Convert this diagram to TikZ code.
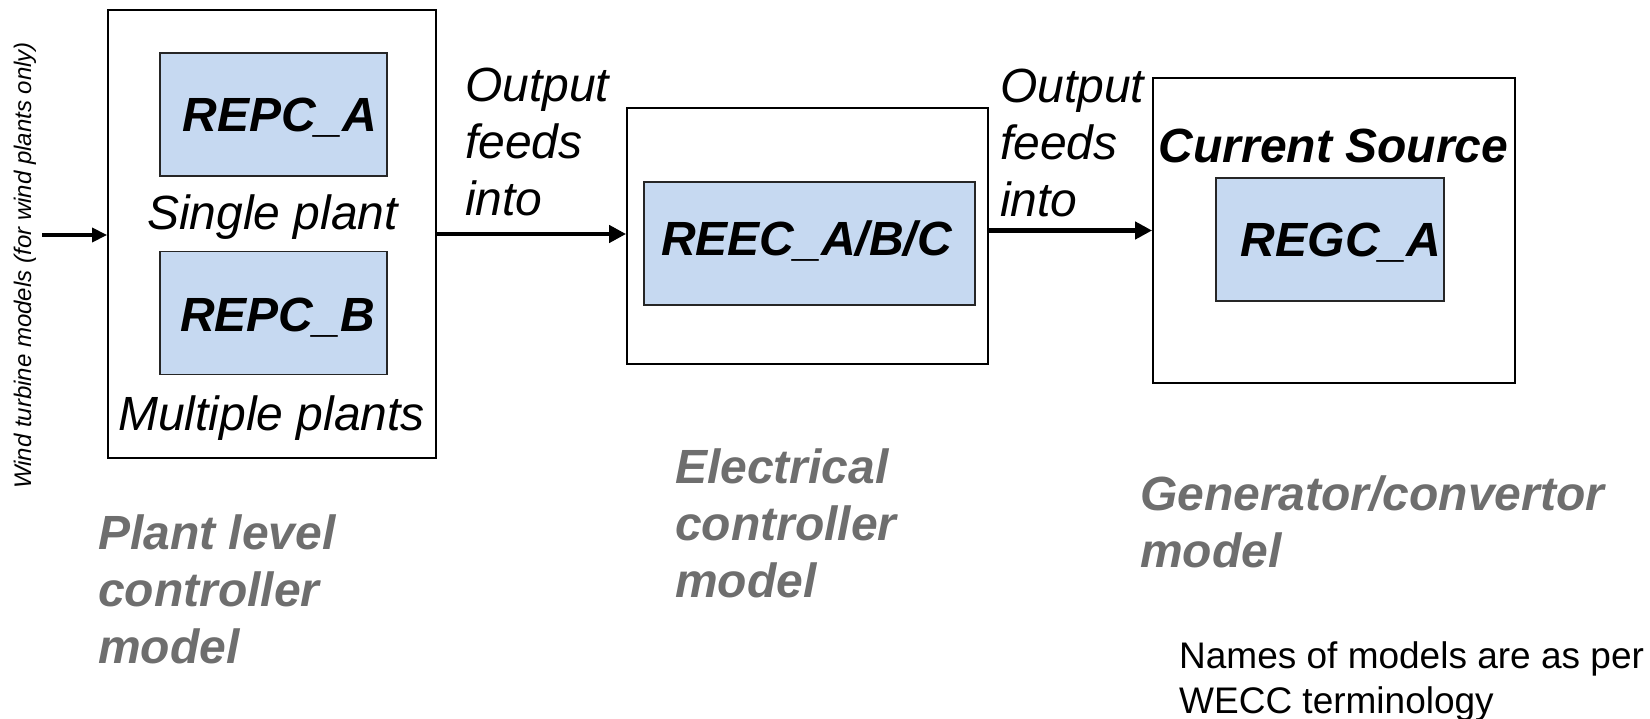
\documentclass[tikz,border=0pt]{standalone}
\usepackage{fontspec}
\setmainfont{Liberation Sans}
\usetikzlibrary{arrows.meta}
\definecolor{boxblue}{RGB}{198,217,241}
\definecolor{labgray}{RGB}{110,110,110}
\tikzset{
  outerbox/.style={draw=black, line width=1.8pt, fill=white, inner sep=0pt},
  innerbox/.style={draw=black!85, line width=1.6pt, fill=boxblue, inner sep=0pt},
  bigbi/.style={font=\fontsize{48}{57}\selectfont\bfseries\itshape, inner sep=0pt, anchor=base},
  bigi/.style={font=\fontsize{48}{57}\selectfont\itshape, inner sep=0pt},
  graylab/.style={font=\fontsize{48}{57}\selectfont\bfseries\itshape, text=labgray, inner sep=0pt, align=left, anchor=north west},
  mainarrow/.style={line width=4.5pt, -{Triangle[length=17pt,width=17pt]}},
  inarrow/.style={line width=3.5pt, -{Triangle[length=15pt,width=14pt]}}
}
\begin{document}
\begin{tikzpicture}[x=1pt,y=-1pt]
\useasboundingbox (0,0) rectangle (1650,719);

% boxes
\node[outerbox, minimum width=328pt, minimum height=448pt] (box1) at (272,234) {};
\node[innerbox, minimum width=227pt, minimum height=123pt] (repcA) at (273.5,114.5) {};
\node[innerbox, minimum width=227pt, minimum height=123pt] (repcB) at (273.5,313) {};
\node[outerbox, minimum width=361pt, minimum height=256pt] (box2) at (807.5,236) {};
\node[innerbox, minimum width=331pt, minimum height=123pt] (reec) at (809.5,243.5) {};
\node[outerbox, minimum width=362pt, minimum height=305pt] (box3) at (1334,230.5) {};
\node[innerbox, minimum width=228pt, minimum height=123pt] (regc) at (1330,239.5) {};

% texts in boxes
\node[bigbi] (tA) at (280,132) {REPC\_A};
\node[bigi, anchor=base] (tsingle) at (272.5,230) {Single plant};
\node[bigbi] (tB) at (277.5,332) {REPC\_B};
\node[bigi, anchor=base] (tmulti) at (271.5,430) {Multiple plants};
\node[bigbi] (tREEC) at (806.5,256) {REEC\_A/B/C};
\node[bigbi] (tcur) at (1333.5,163) {Current Source};
\node[bigbi] (tREGC) at (1341,257) {REGC\_A};

% output labels
\node[bigi, align=left, anchor=north west] (out1) at (465,68) {Output\\feeds\\into};
\node[bigi, align=left, anchor=north west] (out2) at (1000,69) {Output\\feeds\\into};

% gray labels
\node[graylab] (lplant) at (98,515) {Plant level\\controller\\model};
\node[graylab] (lelec) at (675,449) {Electrical\\controller\\model};
\node[graylab] (lgen) at (1140,476) {Generator/convertor\\model};

% note
\node[font=\fontsize{37}{45}\selectfont, inner sep=0pt, align=left, anchor=north west] (note) at (1179,641) {Names of models are as per\\WECC terminology};

% rotated input label
\node[font=\fontsize{24}{28}\selectfont\itshape, inner sep=0pt, rotate=90, anchor=base] (wind) at (31,265.5) {Wind turbine models (for wind plants only)};

% connectors
\coordinate (inp) at (42,235);
\draw[inarrow] (inp) -- (inp -| box1.west);
\draw[mainarrow] (box1.east) -- (box1.east -| box2.west);
\draw[mainarrow] (box2.east |- box3.west) -- (box3.west);
\end{tikzpicture}
\end{document}
